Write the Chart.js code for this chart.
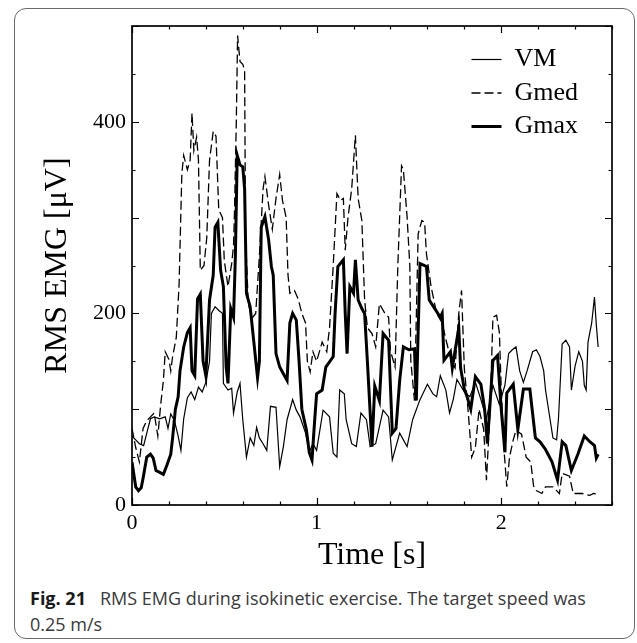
<!DOCTYPE html>
<html>
<head>
<meta charset="utf-8">
<script src="https://cdn.jsdelivr.net/npm/chart.js@4.4.1/dist/chart.umd.min.js"></script>
<style>
  body { margin: 0; background: #fff; }
  #page { position: relative; width: 637px; height: 643px; overflow: hidden; background: #fff; }
  #frame { position: absolute; left: 14px; top: 8px; width: 619px; height: 629px; border: 1.5px solid #6a6a6a; border-radius: 12px; }
  #chart { position: absolute; left: 0; top: 0; }
  .cap { position: absolute; left: 30px; font-family: "Open Sans", sans-serif; font-size: 18px; line-height: 22px; color: #3a3a3a; white-space: nowrap; }
  .cap b { color: #1a1a1a; font-weight: 700; margin-right: 14px; }
</style>
</head>
<body>
<div id="page">
  <div id="frame"></div>
  <canvas id="chart" width="637" height="580"></canvas>
  <div class="cap" style="top:587px"><b id="figno">Fig. 21</b><span id="capText">RMS EMG during isokinetic exercise. The target speed was</span></div>
  <div class="cap" style="top:613px">0.25 m/s</div>
</div>
<script>
// time [s] and RMS EMG [µV]
const vmTime = [0,0.02,0.04,0.063,0.08,0.10,0.12,0.15,0.18,0.195,0.21,0.23,0.25,0.265,0.28,0.30,0.32,0.34,0.36,0.38,0.40,0.42,0.43,0.45,0.47,0.49,0.495,0.52,0.54,0.55,0.57,0.585,0.60,0.62,0.64,0.66,0.675,0.69,0.71,0.73,0.75,0.78,0.80,0.82,0.84,0.87,0.89,0.91,0.94,0.96,0.98,1.0,1.035,1.07,1.09,1.11,1.125,1.15,1.16,1.19,1.215,1.24,1.27,1.29,1.32,1.36,1.39,1.41,1.45,1.49,1.52,1.56,1.60,1.63,1.65,1.67,1.70,1.72,1.74,1.76,1.80,1.83,1.86,1.89,1.92,1.955,1.99,2.02,2.04,2.06,2.08,2.10,2.12,2.14,2.17,2.19,2.21,2.23,2.24,2.26,2.28,2.30,2.31,2.33,2.35,2.37,2.38,2.40,2.42,2.44,2.45,2.46,2.47,2.49,2.505,2.515,2.525];
const vmValues = [72,68,64,62,75,90,92,90,92,80,95,88,72,57,90,112,118,110,123,118,128,150,200,207,203,200,127,120,122,96,118,127,89,50,70,62,81,70,64,57,103,102,40,61,89,110,99,92,75,55,64,57,99,92,54,50,120,116,89,64,61,96,89,61,64,99,92,47,75,61,89,110,126,116,113,135,120,96,110,131,118,113,128,110,90,125,105,125,158,162,165,140,128,140,160,162,155,140,120,95,70,68,90,168,172,165,120,145,160,150,125,120,170,190,217,188,165];

const gmedTime = [0,0.02,0.04,0.06,0.08,0.10,0.12,0.14,0.155,0.17,0.18,0.20,0.21,0.22,0.24,0.255,0.27,0.28,0.30,0.315,0.325,0.335,0.35,0.36,0.37,0.39,0.405,0.42,0.44,0.455,0.47,0.49,0.50,0.52,0.54,0.55,0.555,0.565,0.572,0.585,0.60,0.61,0.615,0.63,0.65,0.67,0.69,0.71,0.72,0.74,0.76,0.78,0.80,0.815,0.835,0.845,0.855,0.88,0.90,0.92,0.94,0.95,0.965,0.98,1.0,1.03,1.055,1.07,1.09,1.11,1.13,1.145,1.155,1.17,1.19,1.21,1.225,1.245,1.26,1.275,1.30,1.32,1.34,1.37,1.39,1.40,1.425,1.44,1.46,1.47,1.49,1.505,1.51,1.53,1.55,1.57,1.585,1.595,1.62,1.65,1.68,1.70,1.73,1.75,1.77,1.785,1.80,1.82,1.84,1.86,1.88,1.905,1.92,1.94,1.955,1.975,1.99,2.0,2.015,2.03,2.045,2.065,2.08,2.11,2.135,2.16,2.175,2.19,2.22,2.24,2.28,2.30,2.315,2.33,2.37,2.39,2.405,2.44,2.48,2.50,2.525];
const gmedValues = [80,60,45,80,88,92,96,72,104,130,160,152,140,155,175,230,346,365,350,360,409,370,384,360,245,250,279,360,390,385,308,300,255,228,252,271,305,400,490,463,460,454,280,210,195,200,260,330,343,313,288,320,345,318,300,240,221,224,215,200,190,150,139,160,150,170,160,185,250,325,318,320,266,300,330,386,320,297,214,185,179,165,210,200,196,161,144,250,354,350,301,249,151,109,283,297,295,262,228,200,190,173,150,143,200,224,143,100,50,60,100,79,26,100,196,198,180,121,58,19,50,68,78,74,50,45,20,15,12,19,19,15,12,33,30,12,12,12,10,12,11];

const gmaxTime = [0,0.02,0.035,0.05,0.06,0.08,0.10,0.115,0.13,0.15,0.17,0.19,0.21,0.22,0.235,0.25,0.26,0.28,0.30,0.315,0.325,0.34,0.355,0.37,0.385,0.40,0.42,0.44,0.45,0.465,0.48,0.495,0.51,0.52,0.535,0.55,0.56,0.57,0.585,0.60,0.61,0.62,0.64,0.66,0.68,0.69,0.70,0.72,0.74,0.755,0.765,0.78,0.80,0.82,0.84,0.855,0.87,0.89,0.905,0.92,0.945,0.96,0.975,0.99,1.0,1.03,1.05,1.09,1.10,1.115,1.145,1.155,1.165,1.18,1.20,1.21,1.225,1.245,1.26,1.275,1.30,1.315,1.34,1.36,1.39,1.41,1.43,1.45,1.47,1.50,1.53,1.54,1.56,1.595,1.61,1.64,1.67,1.68,1.69,1.725,1.735,1.77,1.78,1.80,1.815,1.835,1.86,1.89,1.91,1.925,1.955,1.98,2.0,2.02,2.03,2.065,2.09,2.12,2.155,2.185,2.21,2.24,2.275,2.305,2.33,2.35,2.38,2.415,2.45,2.48,2.505,2.515,2.525];
const gmaxValues = [45,19,15,18,28,50,53,49,36,34,32,42,53,70,100,113,140,165,180,185,140,135,215,220,150,135,214,240,290,295,245,228,144,127,205,196,260,365,355,353,330,221,207,170,133,150,290,301,277,249,240,158,144,137,130,190,200,193,150,100,78,55,47,90,116,120,144,155,200,249,256,200,158,228,221,256,214,205,200,150,61,124,109,179,172,75,80,130,165,162,163,109,252,249,214,205,196,200,151,160,143,185,143,121,113,100,134,126,100,64,151,156,100,55,117,126,79,121,121,70,66,58,45,26,66,62,36,53,72,66,62,49,53];

const seriesNames = ['VM', 'Gmed', 'Gmax'];
const xTickLabels = [0, 1, 2];
const yTickLabels = [0, 200, 400];

const serif = '"Liberation Serif", "Times New Roman", serif';

function toPoints(times, values) {
    return times.map((t, i) => ({ x: t, y: values[i] }));
}

// inward tick marks on all four sides plus the box
const frameTicks = {
    id: 'frameTicks',
    afterDatasetsDraw(chart) {
        const { ctx, chartArea: a, scales: { x, y } } = chart;
        ctx.save();
        ctx.strokeStyle = '#000';
        ctx.lineWidth = 1.2;
        ctx.beginPath();
        x.ticks.forEach(t => {
            const px = Math.round(x.getPixelForValue(t.value)) + 0.5;
            const len = Math.abs(t.value - Math.round(t.value)) < 1e-6 ? 7 : 3.5;
            ctx.moveTo(px, a.bottom); ctx.lineTo(px, a.bottom - len);
            ctx.moveTo(px, a.top); ctx.lineTo(px, a.top + len);
        });
        y.ticks.forEach(t => {
            const py = Math.round(y.getPixelForValue(t.value)) + 0.5;
            const len = Math.round(t.value) % 100 === 0 ? 7 : 3.5;
            ctx.moveTo(a.left, py); ctx.lineTo(a.left + len, py);
            ctx.moveTo(a.right, py); ctx.lineTo(a.right - len, py);
        });
        ctx.stroke();
        ctx.lineWidth = 1.7;
        ctx.strokeRect(a.left, a.top, a.right - a.left, a.bottom - a.top);
        ctx.restore();
    }
};

// park the legend in the upper right of the plot
const legendSpot = {
    id: 'legendSpot',
    afterLayout(chart) {
        chart.legend.left = 464;
        chart.legend.top = 39;
    }
};

const styles = [
    { borderWidth: 1.2, borderDash: [] },
    { borderWidth: 1.3, borderDash: [9, 4] },
    { borderWidth: 3, borderDash: [] }
];
const series = [[vmTime, vmValues], [gmedTime, gmedValues], [gmaxTime, gmaxValues]];

new Chart(document.getElementById('chart'), {
    type: 'line',
    data: {
        datasets: series.map((s, i) => ({
            label: seriesNames[i],
            data: toPoints(s[0], s[1]),
            borderColor: '#000',
            backgroundColor: '#000',
            borderWidth: styles[i].borderWidth,
            borderDash: styles[i].borderDash,
            pointRadius: 0,
            pointStyle: 'line',
            tension: 0,
            fill: false
        }))
    },
    options: {
        responsive: false,
        animation: false,
        layout: { padding: { top: 26, right: 25, left: 0, bottom: 0 } },
        scales: {
            x: {
                type: 'linear',
                min: 0,
                max: 2.6,
                grid: { display: false, drawTicks: false },
                border: { display: false },
                ticks: {
                    stepSize: 0.2,
                    padding: 5,
                    autoSkip: false,
                    maxRotation: 0,
                    color: '#000',
                    font: { family: serif, size: 22 },
                    callback: v => xTickLabels.find(l => Math.abs(l - v) < 1e-6) !== undefined ? String(Math.round(v)) : ''
                },
                title: {
                    display: true,
                    text: 'Time [s]',
                    color: '#000',
                    font: { family: serif, size: 32 },
                    padding: { top: 0, bottom: 5 }
                },
                afterFit: scale => { scale.height = 75; }
            },
            y: {
                min: 0,
                max: 500,
                grid: { display: false, drawTicks: false },
                border: { display: false },
                ticks: {
                    stepSize: 50,
                    padding: 6,
                    autoSkip: false,
                    color: '#000',
                    font: { family: serif, size: 22 },
                    callback: v => yTickLabels.includes(v) ? String(v) : ''
                },
                title: {
                    display: true,
                    text: 'RMS EMG [\u03bcV]',
                    color: '#000',
                    font: { family: serif, size: 32 },
                    padding: { top: 38, bottom: 0 }
                },
                afterFit: scale => { scale.width = 132; }
            }
        },
        plugins: {
            legend: {
                position: 'chartArea',
                align: 'start',
                labels: {
                    usePointStyle: true,
                    pointStyleWidth: 30,
                    padding: 7.5,
                    color: '#000',
                    font: { family: serif, size: 26 },
                    generateLabels: chart => Chart.defaults.plugins.legend.labels.generateLabels(chart).map(item => {
                        const ds = chart.data.datasets[item.datasetIndex];
                        item.lineWidth = ds.borderWidth;
                        item.lineDash = ds.borderDash;
                        item.strokeStyle = '#000';
                        return item;
                    })
                }
            },
            tooltip: { enabled: false }
        }
    },
    plugins: [frameTicks, legendSpot]
});

// squeeze the caption line to the width it has in the figure
const capText = document.getElementById('capText');
const w = capText.getBoundingClientRect().width;
capText.style.letterSpacing = ((486 - w) / (capText.textContent.length - 1)).toFixed(3) + 'px';
</script>
</body>
</html>
